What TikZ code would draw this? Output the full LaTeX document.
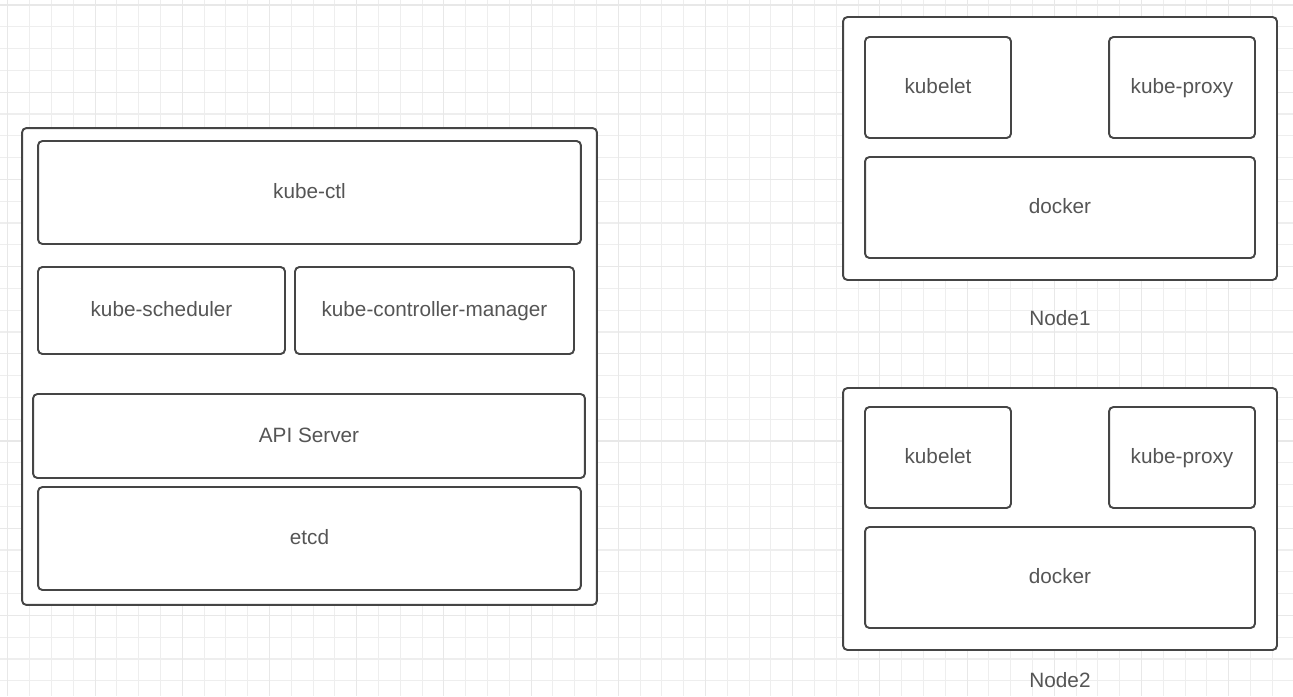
\documentclass[tikz,border=0pt]{standalone}
\usepackage{fontspec}
\setmainfont{Liberation Sans}
\definecolor{gridgray}{HTML}{EEEEEE}
\definecolor{gridmajor}{HTML}{E8E8E8}
\definecolor{linegray}{HTML}{454545}
\definecolor{textgray}{HTML}{555555}
\tikzset{
  box/.style={draw=linegray,line width=1.1pt,rounded corners=2.5pt,fill=white,
    text=textgray,font=\fontsize{11.8}{13}\selectfont,inner sep=0pt,
    text height=1.6ex,text depth=0.3ex},
  caption/.style={text=textgray,font=\fontsize{11.8}{13}\selectfont}
}
\begin{document}
\begin{tikzpicture}[x=0.02cm,y=-0.02cm]

		\useasboundingbox (0,0) rectangle (1293,696);
		\fill[white] (0,0) rectangle (1293,696);

		% background grid
		\foreach \i in {0,...,59} {
			\draw[gridgray,line width=0.6pt] (7.9+21.8*\i,0) -- (7.9+21.8*\i,696);
		}
		\foreach \i in {0,...,31} {
			\draw[gridgray,line width=0.6pt] (0,5+21.8*\i) -- (1293,5+21.8*\i);
		}
		\foreach \i in {0,...,14} {
			\draw[gridmajor,line width=0.6pt] (7.9+87.2*\i,0) -- (7.9+87.2*\i,696);
		}
		\foreach \i in {0,...,7} {
			\draw[gridmajor,line width=0.6pt] (0,5+87.2*\i) -- (1293,5+87.2*\i);
		}

		% master
		\node (master) at (309.5,366.5) [box,minimum width=11.5cm,minimum height=9.54cm] {};
		\node (ctl) at (309.5,192.5) [box,minimum width=10.86cm,minimum height=2.06cm] {kube-ctl};
		\node (sched) at (161.5,310.5) [box,minimum width=4.94cm,minimum height=1.74cm] {kube-scheduler};
		\node (ctrlmgr) at (434.5,310.5) [box,minimum width=5.58cm,minimum height=1.74cm] {kube-controller-manager};
		\node (api) at (309,436) [box,minimum width=11.04cm,minimum height=1.68cm] {API Server};
		\node (etcd) at (309.5,538.5) [box,minimum width=10.86cm,minimum height=2.06cm] {etcd};

		% Node1
		\node (nodeA) at (1060,148.5) [box,minimum width=8.68cm,minimum height=5.26cm] {};
		\node (kubeletA) at (938,87.5) [box,minimum width=2.92cm,minimum height=2.02cm] {kubelet};
		\node (proxyA) at (1182,87.5) [box,minimum width=2.92cm,minimum height=2.02cm] {kube-proxy};
		\node (dockerA) at (1060,207.5) [box,minimum width=7.8cm,minimum height=2.02cm] {docker};
		\node (labelA) at (1060,318) [caption] {Node1};

		% Node2
		\node (nodeB) at (1060,519) [box,minimum width=8.68cm,minimum height=5.24cm] {};
		\node (kubeletB) at (938,457.5) [box,minimum width=2.92cm,minimum height=2.02cm] {kubelet};
		\node (proxyB) at (1182,457.5) [box,minimum width=2.92cm,minimum height=2.02cm] {kube-proxy};
		\node (dockerB) at (1060,577.5) [box,minimum width=7.8cm,minimum height=2.02cm] {docker};
		\node (labelB) at (1060,680) [caption] {Node2};

\end{tikzpicture}
\end{document}
